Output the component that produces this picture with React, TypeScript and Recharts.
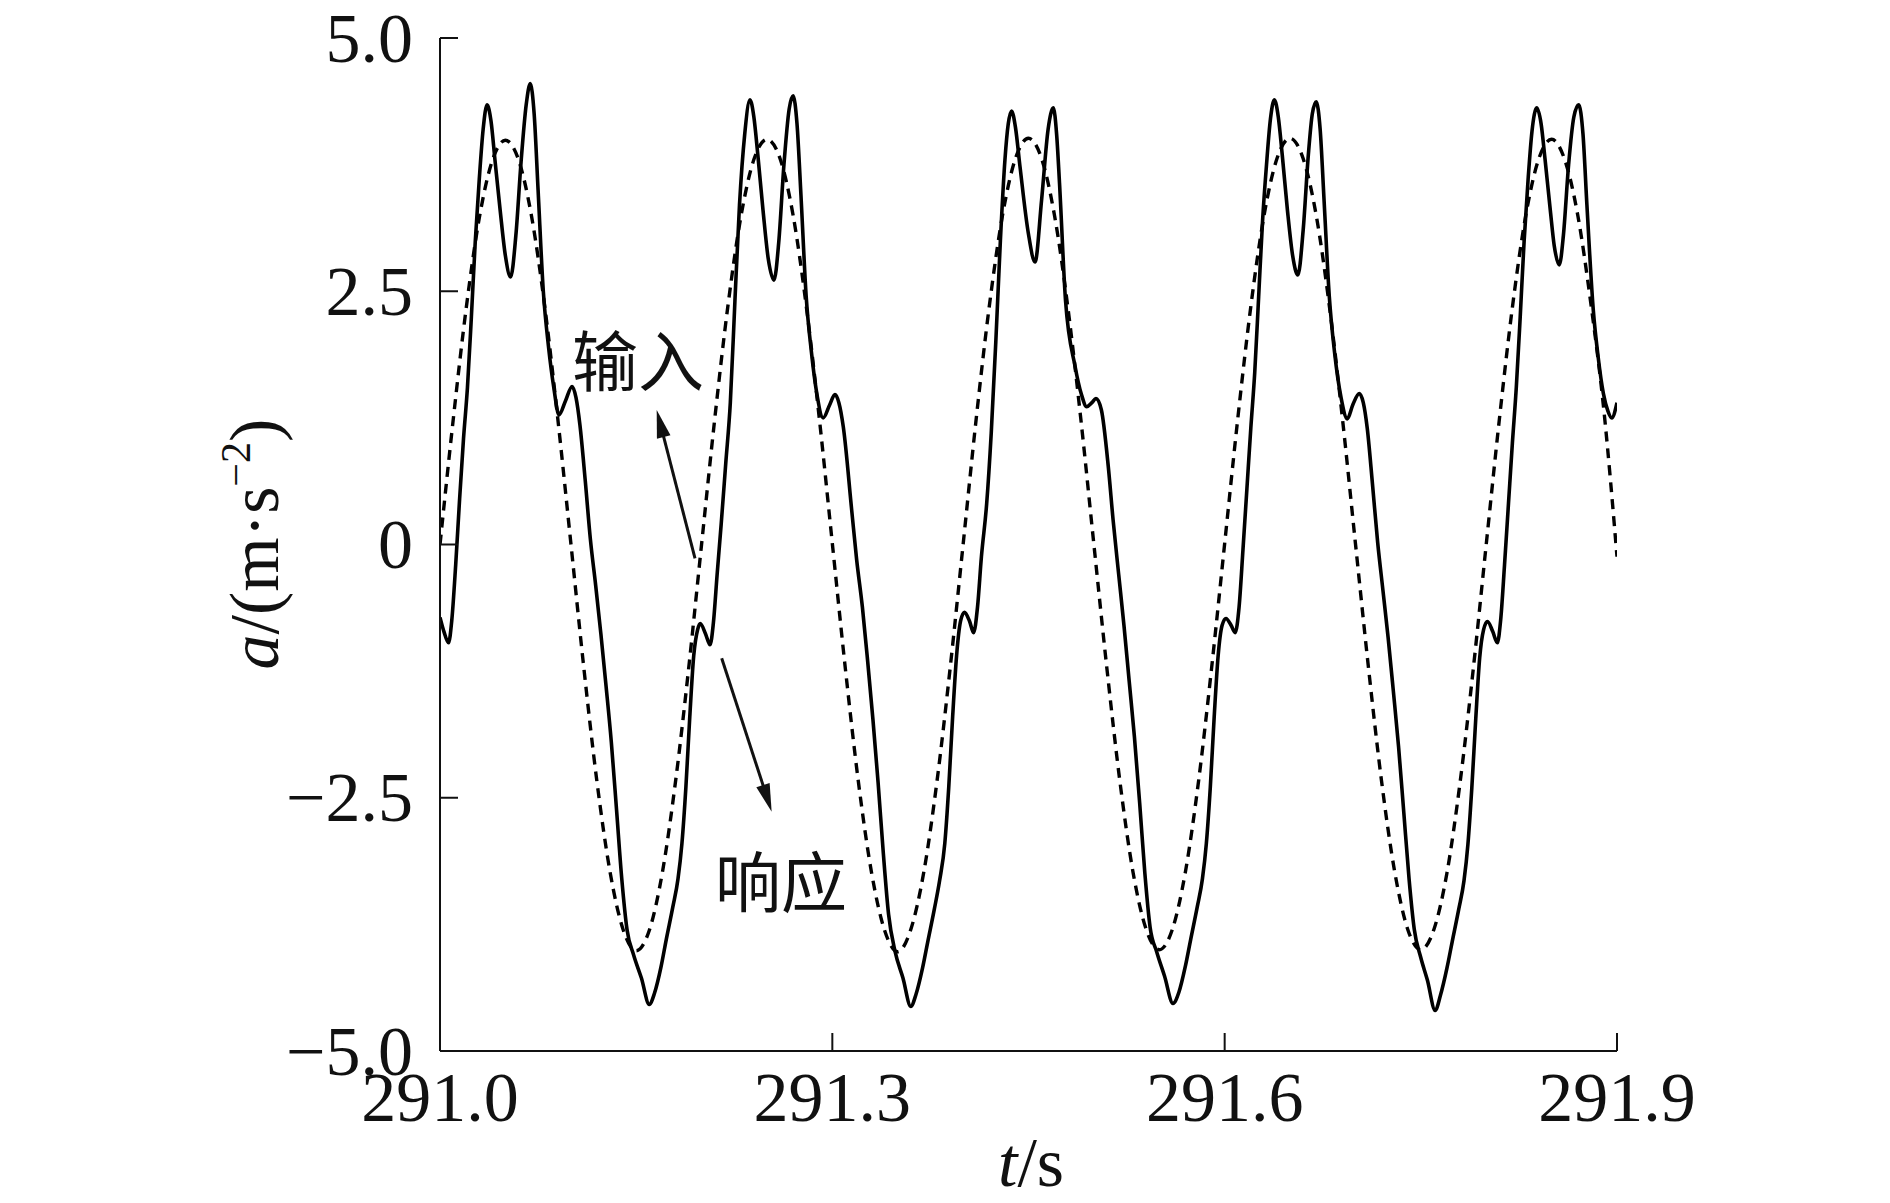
import React from 'react';
import { LineChart, Line, XAxis, YAxis, ReferenceLine, ReferenceDot } from 'recharts';

// ---------- data ----------
const inputTime = [
  291.00, 291.01, 291.02, 291.03, 291.04, 291.05, 291.06, 291.07, 291.08, 291.09,
  291.10, 291.11, 291.12, 291.13, 291.14, 291.15, 291.16, 291.17, 291.18, 291.19,
  291.20, 291.21, 291.22, 291.23, 291.24, 291.25, 291.26, 291.27, 291.28, 291.29,
  291.30, 291.31, 291.32, 291.33, 291.34, 291.35, 291.36, 291.37, 291.38, 291.39,
  291.40, 291.41, 291.42, 291.43, 291.44, 291.45, 291.46, 291.47, 291.48, 291.49,
  291.50, 291.51, 291.52, 291.53, 291.54, 291.55, 291.56, 291.57, 291.58, 291.59,
  291.60, 291.61, 291.62, 291.63, 291.64, 291.65, 291.66, 291.67, 291.68, 291.69,
  291.70, 291.71, 291.72, 291.73, 291.74, 291.75, 291.76, 291.77, 291.78, 291.79,
  291.80, 291.81, 291.82, 291.83, 291.84, 291.85, 291.86, 291.87, 291.88, 291.89,
  291.90,
];
const inputValue = [
  0.00, 1.22, 2.33, 3.22, 3.79, 3.99, 3.80, 3.24, 2.36, 1.25,
  0.02, -1.22, -2.34, -3.23, -3.80, -4.01, -3.81, -3.24, -2.35, -1.24,
  0.00, 1.23, 2.34, 3.23, 3.80, 4.00, 3.81, 3.25, 2.36, 1.25,
  0.01, -1.23, -2.35, -3.24, -3.81, -4.02, -3.80, -3.23, -2.34, -1.23,
  0.00, 1.24, 2.35, 3.24, 3.81, 4.01, 3.81, 3.24, 2.35, 1.24,
  0.00, -1.23, -2.35, -3.24, -3.80, -4.00, -3.80, -3.23, -2.34, -1.22,
  0.01, 1.24, 2.35, 3.24, 3.81, 4.01, 3.81, 3.25, 2.36, 1.25,
  0.01, -1.22, -2.34, -3.23, -3.80, -4.00, -3.80, -3.24, -2.35, -1.24,
  0.00, 1.23, 2.34, 3.23, 3.80, 4.00, 3.80, 3.25, 2.38, 1.32,
  -0.12,
];

const responseTime1 = [
  291.000, 291.003, 291.0065, 291.009, 291.012, 291.015, 291.018, 291.021, 291.024, 291.027,
  291.030, 291.033, 291.036, 291.039, 291.042, 291.046, 291.050, 291.054, 291.058, 291.062,
  291.066, 291.069, 291.072, 291.075, 291.079, 291.083, 291.087, 291.091, 291.096, 291.101,
  291.104, 291.107, 291.111, 291.115, 291.119, 291.123, 291.127, 291.131, 291.135, 291.139,
  291.143, 291.148, 291.154, 291.160, 291.164, 291.169, 291.173, 291.178, 291.182, 291.185,
  291.188, 291.191, 291.194, 291.197, 291.199, 291.203,
];
const responseValue1 = [
  -0.72, -0.86, -0.97, -0.75, -0.20, 0.45, 1.05, 1.55, 2.25, 3.00,
  3.60, 4.10, 4.34, 4.18, 3.80, 3.30, 2.85, 2.64, 3.05, 3.78,
  4.35, 4.55, 4.25, 3.50, 2.50, 1.95, 1.55, 1.28, 1.42, 1.56,
  1.45, 1.18, 0.64, 0.05, -0.40, -0.88, -1.40, -1.95, -2.62, -3.30,
  -3.80, -4.05, -4.28, -4.54, -4.43, -4.17, -3.90, -3.58, -3.30, -2.95,
  -2.40, -1.70, -1.10, -0.84, -0.78, -0.88,
];
const responseTime2 = [
  291.2065, 291.209, 291.212, 291.215, 291.2185, 291.222, 291.2255, 291.229, 291.233, 291.237,
  291.240, 291.243, 291.247, 291.251, 291.2554, 291.259, 291.263, 291.267, 291.270, 291.273,
  291.276, 291.280, 291.284, 291.288, 291.293, 291.298, 291.302, 291.305, 291.3084, 291.3148,
  291.3186, 291.323, 291.327, 291.331, 291.335, 291.339, 291.343, 291.348, 291.354, 291.360,
  291.364, 291.369, 291.373, 291.378, 291.382, 291.386, 291.389, 291.392, 291.395, 291.398,
  291.401, 291.405,
];
const responseValue2 = [
  -0.99, -0.78, -0.28, 0.20, 0.80, 1.40, 2.40, 3.35, 4.05, 4.39,
  4.22, 3.85, 3.30, 2.82, 2.61, 2.98, 3.75, 4.30, 4.43, 4.15,
  3.45, 2.45, 1.90, 1.50, 1.25, 1.38, 1.48, 1.40, 1.16, 0.34,
  -0.15, -0.62, -1.15, -1.72, -2.35, -3.05, -3.65, -4.02, -4.28, -4.56,
  -4.44, -4.18, -3.92, -3.60, -3.32, -2.95, -2.40, -1.70, -1.10, -0.76,
  -0.67, -0.76,
];
const responseTime3 = [
  291.408, 291.411, 291.414, 291.418, 291.4215, 291.425, 291.4285, 291.432, 291.4345, 291.437,
  291.440, 291.4435, 291.4499, 291.455, 291.460, 291.465, 291.469, 291.4715, 291.4737, 291.4783,
  291.4856, 291.4905, 291.4945, 291.4985, 291.5016, 291.5057, 291.511, 291.5147, 291.519, 291.523,
  291.527, 291.531, 291.535, 291.539, 291.543, 291.548, 291.554, 291.5605, 291.565, 291.570,
  291.574, 291.579, 291.583, 291.586, 291.589, 291.592, 291.595, 291.598, 291.601, 291.605,
];
const responseValue3 = [
  -0.87, -0.62, -0.12, 0.40, 1.10, 2.00, 3.00, 3.80, 4.15, 4.28,
  4.12, 3.73, 3.07, 2.79, 3.40, 4.10, 4.31, 4.05, 3.57, 2.41,
  1.76, 1.48, 1.36, 1.40, 1.44, 1.33, 0.77, 0.24, -0.30, -0.80,
  -1.35, -1.90, -2.55, -3.25, -3.78, -4.02, -4.26, -4.53, -4.42, -4.16,
  -3.90, -3.58, -3.30, -2.95, -2.40, -1.70, -1.10, -0.80, -0.73, -0.80,
];
const responseTime4 = [
  291.608, 291.611, 291.614, 291.617, 291.620, 291.623, 291.626, 291.629, 291.632, 291.635,
  291.638, 291.641, 291.644, 291.648, 291.652, 291.656, 291.660, 291.664, 291.667, 291.670,
  291.673, 291.676, 291.680, 291.684, 291.689, 291.6938, 291.698, 291.703, 291.706, 291.709,
  291.713, 291.717, 291.721, 291.725, 291.729, 291.733, 291.737, 291.741, 291.745, 291.750,
  291.755, 291.761, 291.765, 291.770, 291.774, 291.779, 291.783, 291.786, 291.789, 291.792,
  291.795, 291.798, 291.801, 291.805,
];
const responseValue4 = [
  -0.87, -0.62, -0.05, 0.55, 1.15, 1.70, 2.45, 3.20, 3.75, 4.20,
  4.39, 4.22, 3.85, 3.30, 2.85, 2.66, 3.10, 3.85, 4.25, 4.37,
  4.10, 3.40, 2.45, 1.90, 1.45, 1.24, 1.38, 1.49, 1.40, 1.15,
  0.60, 0.02, -0.45, -0.92, -1.45, -2.00, -2.65, -3.30, -3.80, -4.08,
  -4.30, -4.60, -4.45, -4.18, -3.92, -3.60, -3.32, -2.96, -2.40, -1.72,
  -1.12, -0.84, -0.76, -0.86,
];
const responseTime5 = [
  291.8085, 291.811, 291.814, 291.817, 291.820, 291.823, 291.826, 291.829, 291.832, 291.835,
  291.8386, 291.842, 291.845, 291.849, 291.852, 291.8559, 291.859, 291.863, 291.867, 291.8707,
  291.874, 291.877, 291.8819, 291.8856, 291.8896, 291.893, 291.896, 291.900,
];
const responseValue5 = [
  -0.97, -0.75, -0.20, 0.40, 1.00, 1.55, 2.25, 3.00, 3.60, 4.08,
  4.31, 4.15, 3.80, 3.30, 2.95, 2.76, 3.05, 3.75, 4.22, 4.34,
  4.05, 3.35, 2.31, 1.85, 1.49, 1.32, 1.25, 1.40,
];

const xTicks = [291.0, 291.3, 291.6, 291.9];
const xTickLabels = ['291.0', '291.3', '291.6', '291.9'];
const yTicks = [-5, -2.5, 0, 2.5, 5];
const yTickLabels = ['\u22125.0', '\u22122.5', '0', '2.5', '5.0'];

const annotationLabels = ['输入', '响应'];
const annotationT = [291.1009, 291.2103];
const annotationV = [1.565, -3.578];
const arrowFromT = [291.195, 291.2154];
const arrowFromV = [-0.136, -1.123];
const arrowToT = [291.1657, 291.2536];
const arrowToV = [1.328, -2.638];

// ---------- build tables ----------
const inputData = inputTime.map((t, i) => ({ t, v: inputValue[i] }));
const responseTime = [...responseTime1, ...responseTime2, ...responseTime3, ...responseTime4, ...responseTime5];
const responseValue = [...responseValue1, ...responseValue2, ...responseValue3, ...responseValue4, ...responseValue5];
const responseData = responseTime.map((t, i) => ({ t, v: responseValue[i] }));

const FONT = '"Liberation Serif", "Times New Roman", serif';
const CJK = '"Noto Sans CJK SC", "Noto Sans CJK JP", sans-serif';
const INK = '#111';

const YTick = (props: any) => {
  const { x, y, payload } = props;
  const idx = yTicks.findIndex((v) => Math.abs(v - payload.value) < 1e-9);
  return (
    <g>
      <line x1={x} y1={y} x2={x + 18} y2={y} stroke={INK} strokeWidth={2} />
      <text x={x - 27} y={y} textAnchor="end" dominantBaseline="central" fontFamily={FONT} fontSize={70} fill={INK}>
        {yTickLabels[idx]}
      </text>
    </g>
  );
};

const XTick = (props: any) => {
  const { x, y, payload } = props;
  const idx = xTicks.findIndex((v) => Math.abs(v - payload.value) < 1e-9);
  return (
    <g>
      <line x1={x} y1={y} x2={x} y2={y - 18} stroke={INK} strokeWidth={2} />
      <text x={x} y={y + 70} textAnchor="middle" fontFamily={FONT} fontSize={70} fill={INK}>
        {xTickLabels[idx]}
      </text>
    </g>
  );
};

const ArrowShape = (p: any) => {
  const { x1, y1, x2, y2 } = p;
  const dx = x2 - x1;
  const dy = y2 - y1;
  const len = Math.hypot(dx, dy) || 1;
  const ux = dx / len;
  const uy = dy / len;
  const hl = 28;
  const hw = 7;
  const bx = x2 - ux * hl;
  const by = y2 - uy * hl;
  const px = -uy;
  const py = ux;
  return (
    <g>
      <line x1={x1} y1={y1} x2={bx + ux * 4} y2={by + uy * 4} stroke={INK} strokeWidth={3} />
      <polygon points={`${x2},${y2} ${bx + px * hw},${by + py * hw} ${bx - px * hw},${by - py * hw}`} fill={INK} />
    </g>
  );
};

const makeTextShape = (label: string) => (p: any) => (
  <text x={p.cx} y={p.cy} fontFamily={CJK} fontSize={66} fill={INK}>
    {label}
  </text>
);

export default function App() {
  return (
    <div style={{ position: 'absolute', left: 0, top: 0, width: 1890, height: 1203, background: '#fff' }}>
      <LineChart
        width={1890}
        height={1203}
        margin={{ top: 38, right: 273, bottom: 132, left: 420 }}
      >
        <XAxis
          type="number"
          dataKey="t"
          domain={[291.0, 291.9]}
          ticks={xTicks}
          allowDataOverflow
          height={20}
          tickSize={0}
          tickMargin={0}
          tickLine={false}
          axisLine={{ stroke: INK, strokeWidth: 2 }}
          tick={<XTick />}
          interval={0}
        />
        <YAxis
          type="number"
          domain={[-5, 5]}
          ticks={yTicks}
          allowDataOverflow
          width={20}
          tickSize={0}
          tickMargin={0}
          tickLine={false}
          axisLine={{ stroke: INK, strokeWidth: 2 }}
          tick={<YTick />}
          interval={0}
        />
        <Line
          data={inputData}
          dataKey="v"
          type="monotone"
          stroke="#000"
          strokeWidth={3.4}
          strokeDasharray="10 7"
          dot={false}
          activeDot={false}
          isAnimationActive={false}
        />
        <Line
          data={responseData}
          dataKey="v"
          type="monotone"
          stroke="#000"
          strokeWidth={3.6}
          dot={false}
          activeDot={false}
          isAnimationActive={false}
        />
        {arrowFromT.map((t, i) => (
          <ReferenceLine
            key={'arr' + i}
            segment={[
              { x: t, y: arrowFromV[i] },
              { x: arrowToT[i], y: arrowToV[i] },
            ]}
            shape={ArrowShape}
            ifOverflow="visible"
          />
        ))}
        {annotationLabels.map((lab, i) => (
          <ReferenceDot
            key={'lab' + i}
            x={annotationT[i]}
            y={annotationV[i]}
            r={1}
            ifOverflow="visible"
            shape={makeTextShape(lab)}
          />
        ))}
      </LineChart>
      <svg
        width={1890}
        height={1203}
        style={{ position: 'absolute', left: 0, top: 0, pointerEvents: 'none' }}
      >
        <text
          x={278}
          y={544}
          transform="rotate(-90 278 544)"
          textAnchor="middle"
          fontFamily={FONT}
          fontSize={70}
          fill={INK}
        >
          <tspan fontStyle="italic">a</tspan>
          <tspan>/(m·s</tspan>
          <tspan fontSize={42} dy={-28}>{'\u22122'}</tspan>
          <tspan dy={28}>)</tspan>
        </text>
        <text x={1031} y={1186} textAnchor="middle" fontFamily={FONT} fontSize={70} fill={INK}>
          <tspan fontStyle="italic">t</tspan>
          <tspan>/s</tspan>
        </text>
      </svg>
    </div>
  );
}
